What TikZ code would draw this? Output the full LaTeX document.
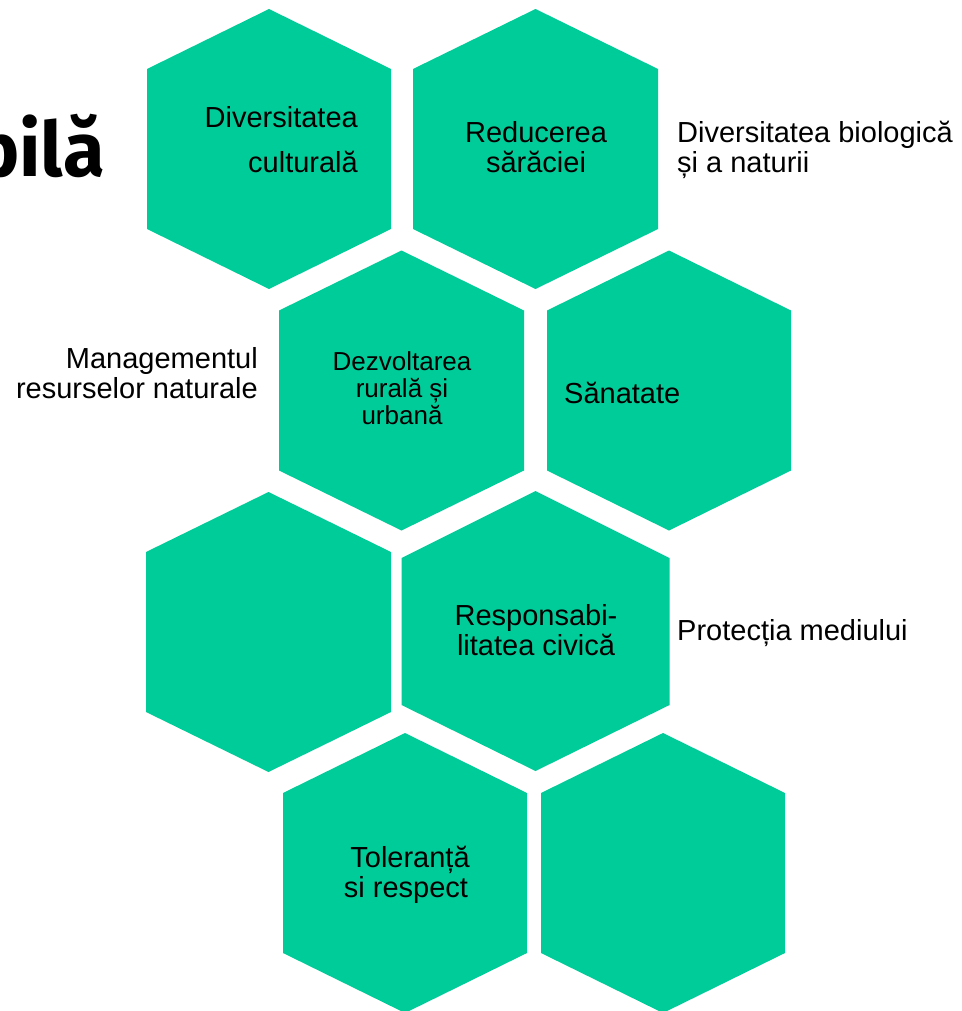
\documentclass[tikz,border=0pt]{standalone}
\usepackage{fontspec}
\setmainfont{Liberation Sans}
\newfontfamily\titlefont{Fira Sans}
\definecolor{hexgreen}{RGB}{0,204,153}
\begin{document}
\begin{tikzpicture}[x=1pt,y=-1pt,
  hexfill/.style={fill=hexgreen},
  lbl/.style={inner sep=0pt, text=black, font=\fontsize{29}{29.5}\selectfont},
  lblsmall/.style={inner sep=0pt, text=black, font=\fontsize{26}{27}\selectfont},
]
\useasboundingbox (0,0) rectangle (961,1011);
\newcommand\hexcell[6]{%
  \fill[hexfill] (#2,#3-140) -- (#2+#4,#3-#5) -- (#2+#4,#3+#6) -- (#2,#3+140)
     -- (#2-#4,#3+#6) -- (#2-#4,#3-#5) -- cycle;
  \coordinate (#1) at (#2,#3);
}
\hexcell{h1}{269}{149}{122}{80}{80}
\hexcell{h2}{535.5}{149}{122.5}{80}{80}
\hexcell{h3}{401.5}{390.5}{122.5}{80}{80}
\hexcell{h4}{669}{390.5}{122}{80}{80}
\hexcell{h5}{268.5}{632}{122.5}{80}{80}
\hexcell{h6}{535.5}{631}{134}{73}{74}
\hexcell{h7}{405}{873}{122}{80}{80}
\hexcell{h8}{663}{873}{122}{80}{80}

\node[anchor=base east, inner sep=0pt, text=black,
  font=\titlefont\bfseries\fontsize{76}{78}\selectfont] (title) at (105,177) {bilă};

\node[lbl, anchor=base east, align=right, font=\fontsize{29}{44}\selectfont] (t1) at (358,172) {Diversitatea\\culturală};
\node[lbl, anchor=base, align=center] (t2) at (536,172) {Reducerea\\sărăciei};
\node[lbl, anchor=base west, align=left] (t3) at (677,172) {Diversitatea biologică\\și a naturii};
\node[lbl, anchor=base east, align=right] (t4) at (258,398) {Managementul\\resurselor naturale};
\node[lblsmall, anchor=base, align=center] (t5) at (402,424) {Dezvoltarea\\rurală și\\urbană};
\node[lbl, anchor=base west] (t6) at (564,403) {Sănatate};
\node[lbl, anchor=base, align=center] (t7) at (536,655) {Responsabi-\\litatea civică};
\node[lbl, anchor=base west] (t8) at (677,640) {Protecția mediului};
\node[lbl, anchor=base, align=center] (t9) at (410,897) {Toleranță\\si respect\kern8pt};
\end{tikzpicture}
\end{document}
